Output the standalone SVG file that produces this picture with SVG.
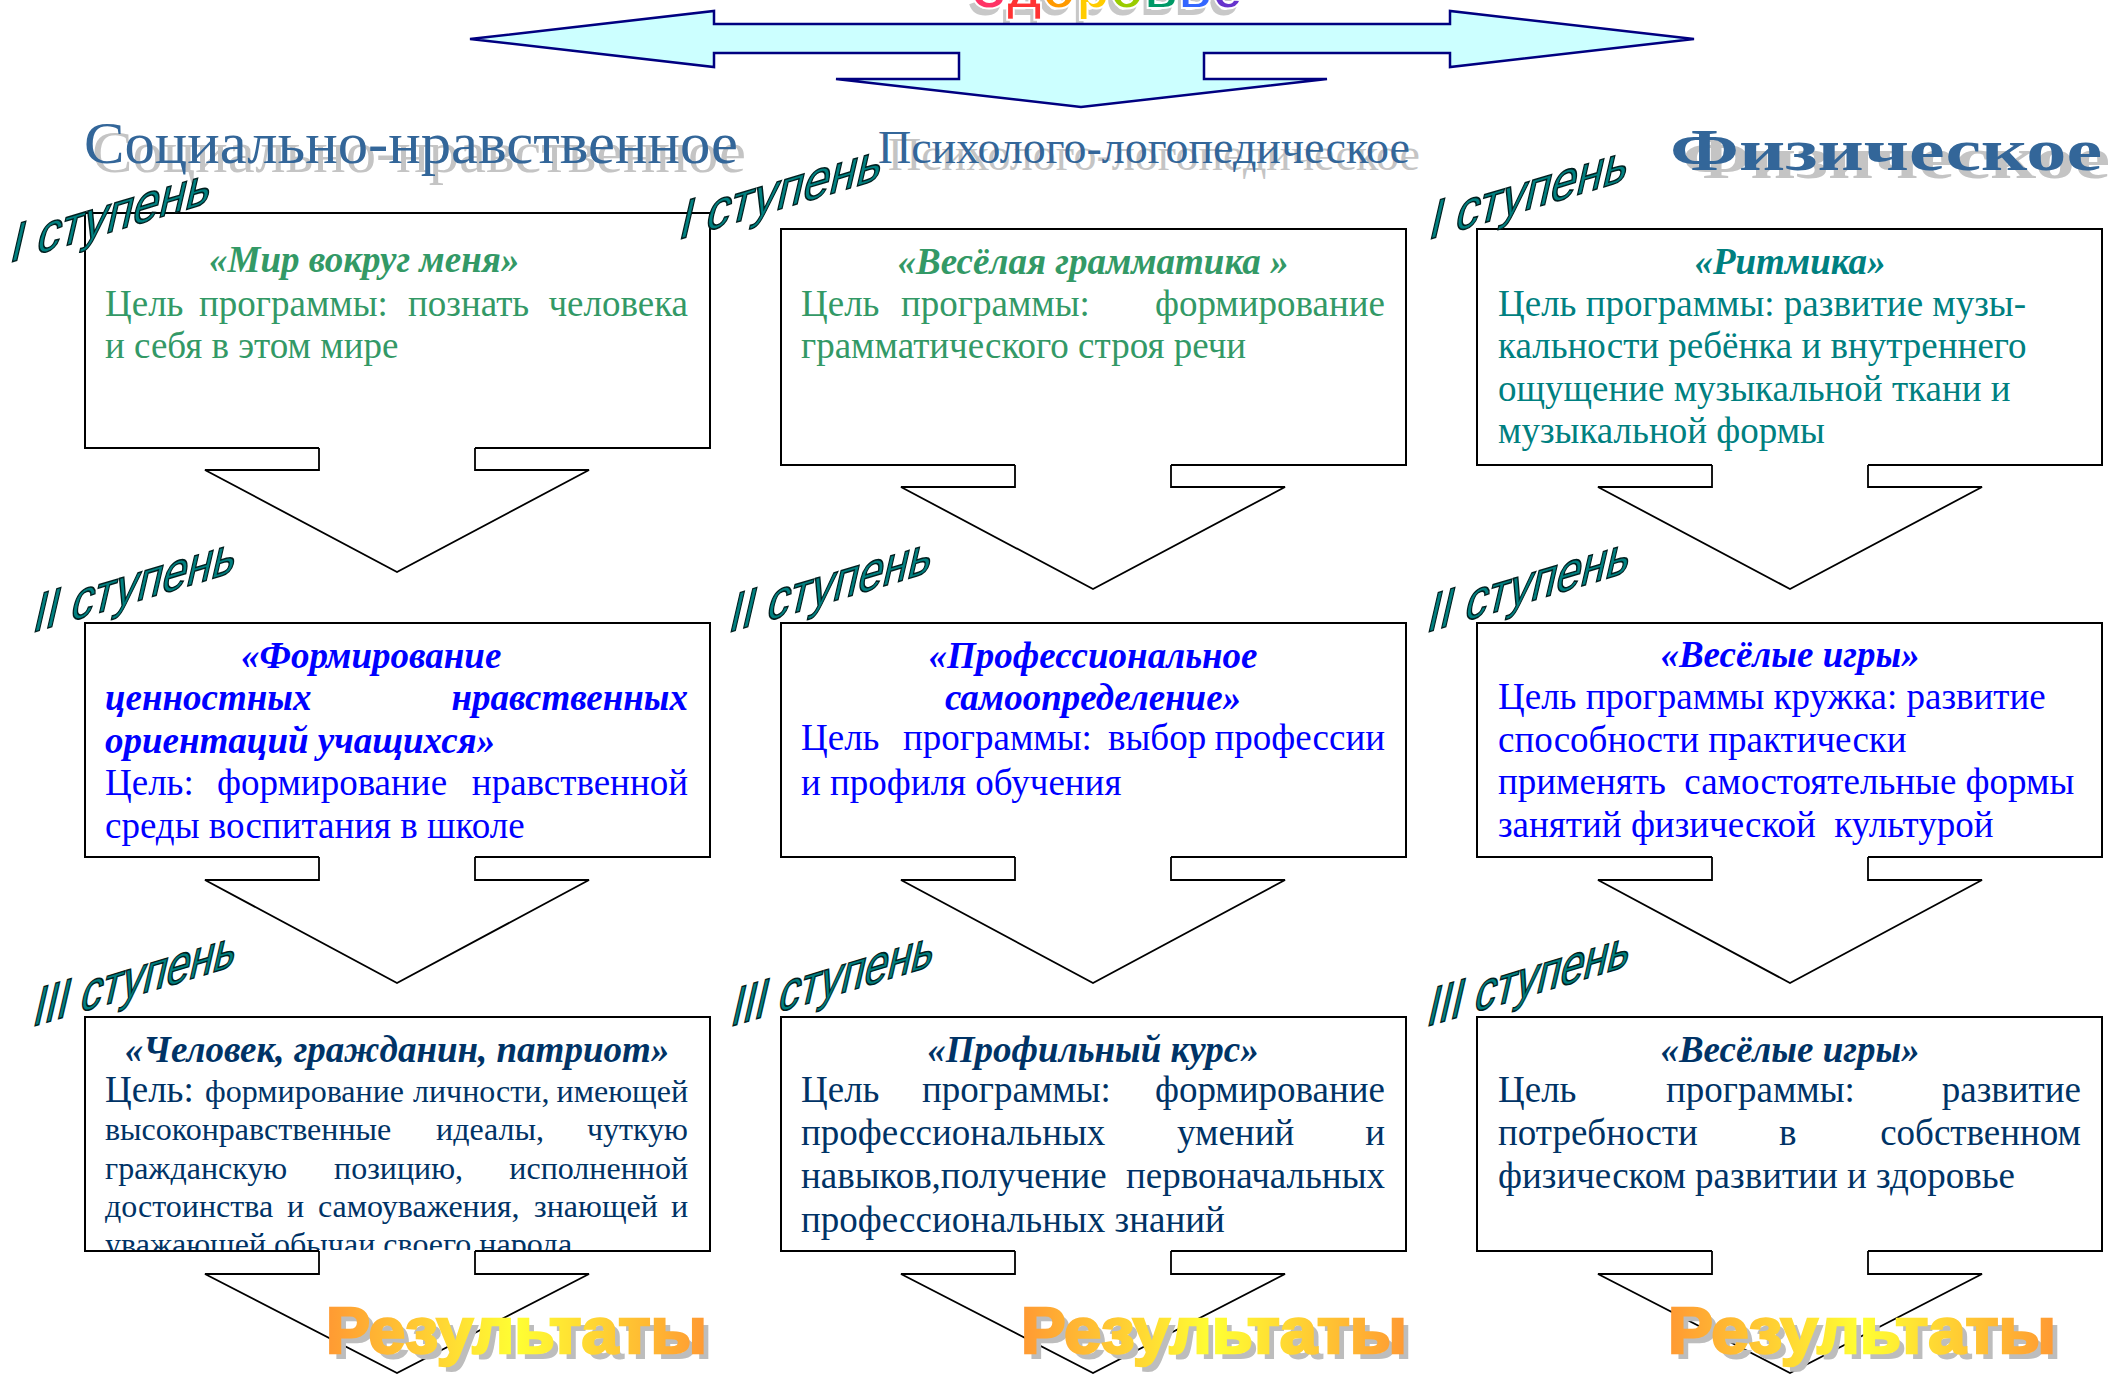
<svg xmlns="http://www.w3.org/2000/svg" width="2112" height="1375" viewBox="0 0 2112 1375">
<defs>
<style>
.box{fill:#fff;stroke:#000;stroke-width:2}
.af{fill:#fff;stroke:none}
.as{fill:none;stroke:#000;stroke-width:1.8;stroke-linejoin:miter}
.ti{font-family:"Liberation Serif","Times New Roman",serif;font-weight:bold;font-style:italic;font-size:37px}
.bo{font-family:"Liberation Serif","Times New Roman",serif;font-size:37px}
.sm{font-size:32px}
.g{fill:#339966}.tl{fill:#008080}.bl{fill:#0000FF}.nv{fill:#003366}
.hd{font-family:"Liberation Serif","Times New Roman",serif;fill:#336699}
.hs{font-family:"Liberation Serif","Times New Roman",serif;fill:#C4C4C4}
.lbl{font-family:"Liberation Sans",Arial,sans-serif;font-size:57px;fill:#008080;stroke:#001f1f;stroke-width:1.6}
.res{font-family:"Liberation Sans",Arial,sans-serif;font-weight:bold;font-size:64px}
.rs{fill:#BDBDBD}
.rf{fill:url(#rg);stroke:url(#rg);stroke-width:2.5}
</style>
<linearGradient id="rg" x1="0" y1="0" x2="1" y2="0">
<stop offset="0" stop-color="#FF9933"/>
<stop offset="0.5" stop-color="#FFFF33"/>
<stop offset="1" stop-color="#FF9933"/>
</linearGradient>
<clipPath id="c13"><rect x="85" y="1017" width="625" height="233"/></clipPath>
</defs>
<rect width="2112" height="1375" fill="#fff"/>

<g id="title-zdorovye" font-family="Liberation Sans, Arial, sans-serif" font-weight="bold" font-size="60">
<text x="968" y="15" fill="#C8C8C8" textLength="271" lengthAdjust="spacingAndGlyphs">Здоровье</text>
<text x="972" y="8" stroke="#fff" stroke-width="2" textLength="271" lengthAdjust="spacingAndGlyphs"><tspan fill="#FF3366">З</tspan><tspan fill="#FF3333">д</tspan><tspan fill="#FF9900">о</tspan><tspan fill="#FFCC00">р</tspan><tspan fill="#99CC00">о</tspan><tspan fill="#009966">в</tspan><tspan fill="#3366FF">ь</tspan><tspan fill="#6633CC">е</tspan></text>
</g>

<g id="top-arrow">
<polygon points="470,39 714,11 714,24 1450,24 1450,11 1694,39 1450,67 1450,53 1204,53 1204,79 1327,79 1081,107 836,79 959,79 959,53 714,53 714,67" fill="#CCFFFF" stroke="#000080" stroke-width="2.5" stroke-linejoin="miter"/>
</g>

<g id="headings">
<text class="hs" x="92" y="172" font-size="60" textLength="654" lengthAdjust="spacingAndGlyphs">Социально-нравственное</text>
<text class="hd" x="84" y="163" font-size="60" textLength="654" lengthAdjust="spacingAndGlyphs">Социально-нравственное</text>
<text class="hs" x="888" y="170" font-size="47" textLength="532" lengthAdjust="spacingAndGlyphs">Психолого-логопедическое</text>
<text class="hd" x="878" y="163" font-size="47" textLength="532" lengthAdjust="spacingAndGlyphs">Психолого-логопедическое</text>
<text class="hs" x="1682" y="178" font-size="60" font-weight="bold" textLength="428" lengthAdjust="spacingAndGlyphs">Физическое</text>
<text class="hd" x="1670" y="170" font-size="60" font-weight="bold" textLength="432" lengthAdjust="spacingAndGlyphs">Физическое</text>
</g>

<!-- Column 1 -->
<g id="node-c1-s1">
<rect class="box" x="85" y="213" width="625" height="235"/>
<text class="ti g" x="209" y="272">«Мир вокруг меня»</text>
<text class="bo g" y="316"><tspan x="105">Цель</tspan><tspan x="199">программы:</tspan><tspan x="408">познать</tspan></text>
<text class="bo g" x="688" y="316" text-anchor="end">человека</text>
<text class="bo g" x="105" y="358">и себя в этом мире</text>
</g>

<g id="node-c1-s2">
<rect class="box" x="85" y="623" width="625" height="234"/>
<text class="ti bl" x="241" y="668">«Формирование</text>
<text class="ti bl" x="105" y="710">ценностных</text>
<text class="ti bl" x="688" y="710" text-anchor="end">нравственных</text>
<text class="ti bl" x="105" y="753">ориентаций учащихся»</text>
<text class="bo bl" y="795"><tspan x="105">Цель:</tspan><tspan x="217">формирование</tspan></text>
<text class="bo bl" x="688" y="795" text-anchor="end">нравственной</text>
<text class="bo bl" x="105" y="838">среды воспитания в школе</text>
</g>

<g id="node-c1-s3">
<rect class="box" x="85" y="1017" width="625" height="234"/>
<text class="ti nv" x="397" y="1062" text-anchor="middle">«Человек, гражданин, патриот»</text>
<g clip-path="url(#c13)">
<text class="bo nv" y="1102"><tspan x="105">Цель:</tspan><tspan class="sm" x="205">формирование</tspan><tspan class="sm" x="413">личности,</tspan></text>
<text class="bo sm nv" x="688" y="1102" text-anchor="end">имеющей</text>
<text class="bo sm nv" y="1140"><tspan x="105">высоконравственные</tspan><tspan x="436">идеалы,</tspan></text>
<text class="bo sm nv" x="688" y="1140" text-anchor="end">чуткую</text>
<text class="bo sm nv" y="1179"><tspan x="105">гражданскую</tspan><tspan x="334">позицию,</tspan></text>
<text class="bo sm nv" x="688" y="1179" text-anchor="end">исполненной</text>
<text class="bo sm nv" y="1217"><tspan x="105">достоинства</tspan><tspan x="287">и</tspan><tspan x="318">самоуважения,</tspan><tspan x="534">знающей</tspan></text>
<text class="bo sm nv" x="688" y="1217" text-anchor="end">и</text>
<text class="bo sm nv" x="105" y="1255">уважающей обычаи своего народа</text>
</g>
</g>

<!-- Column 2 -->
<g id="node-c2-s1">
<rect class="box" x="781" y="229" width="625" height="236"/>
<text class="ti g" x="1093" y="274" text-anchor="middle">«Весёлая грамматика »</text>
<text class="bo g" y="316"><tspan x="801">Цель</tspan><tspan x="901">программы:</tspan></text>
<text class="bo g" x="1385" y="316" text-anchor="end">формирование</text>
<text class="bo g" x="801" y="358">грамматического строя речи</text>
</g>

<g id="node-c2-s2">
<rect class="box" x="781" y="623" width="625" height="234"/>
<text class="ti bl" x="1093" y="668" text-anchor="middle">«Профессиональное</text>
<text class="ti bl" x="1093" y="710" text-anchor="middle">самоопределение»</text>
<text class="bo bl" y="750"><tspan x="801">Цель</tspan><tspan x="903">программы:</tspan><tspan x="1108">выбор</tspan></text>
<text class="bo bl" x="1385" y="750" text-anchor="end">профессии</text>
<text class="bo bl" x="801" y="795">и профиля обучения</text>
</g>

<g id="node-c2-s3">
<rect class="box" x="781" y="1017" width="625" height="234"/>
<text class="ti nv" x="1093" y="1062" text-anchor="middle">«Профильный курс»</text>
<text class="bo nv" y="1102"><tspan x="801">Цель</tspan><tspan x="922">программы:</tspan></text>
<text class="bo nv" x="1385" y="1102" text-anchor="end">формирование</text>
<text class="bo nv" y="1145"><tspan x="801">профессиональных</tspan><tspan x="1177">умений</tspan></text>
<text class="bo nv" x="1385" y="1145" text-anchor="end">и</text>
<text class="bo nv" x="801" y="1188">навыков,получение</text>
<text class="bo nv" x="1385" y="1188" text-anchor="end">первоначальных</text>
<text class="bo nv" x="801" y="1232">профессиональных знаний</text>
</g>

<!-- Column 3 -->
<g id="node-c3-s1">
<rect class="box" x="1477" y="229" width="625" height="236"/>
<text class="ti tl" x="1790" y="274" text-anchor="middle">«Ритмика»</text>
<text class="bo tl" x="1498" y="316">Цель программы: развитие музы-</text>
<text class="bo tl" x="1498" y="358">кальности ребёнка и внутреннего</text>
<text class="bo tl" x="1498" y="401">ощущение музыкальной ткани и</text>
<text class="bo tl" x="1498" y="443">музыкальной формы</text>
</g>

<g id="node-c3-s2">
<rect class="box" x="1477" y="623" width="625" height="234"/>
<text class="ti bl" x="1790" y="667" text-anchor="middle">«Весёлые игры»</text>
<text class="bo bl" x="1498" y="709">Цель программы кружка: развитие</text>
<text class="bo bl" x="1498" y="752">способности практически</text>
<text class="bo bl" x="1498" y="794" xml:space="preserve">применять  самостоятельные формы</text>
<text class="bo bl" x="1498" y="837" xml:space="preserve">занятий физической  культурой</text>
</g>

<g id="node-c3-s3">
<rect class="box" x="1477" y="1017" width="625" height="234"/>
<text class="ti nv" x="1790" y="1062" text-anchor="middle">«Весёлые игры»</text>
<text class="bo nv" y="1102"><tspan x="1498">Цель</tspan><tspan x="1666">программы:</tspan></text>
<text class="bo nv" x="2081" y="1102" text-anchor="end">развитие</text>
<text class="bo nv" y="1145"><tspan x="1498">потребности</tspan><tspan x="1779">в</tspan></text>
<text class="bo nv" x="2081" y="1145" text-anchor="end">собственном</text>
<text class="bo nv" x="1498" y="1188">физическом развитии и здоровье</text>
</g>

<g id="connectors">
<path class="af" d="M319,447V470H205L397,572L589,470H475V447Z"/>
<path class="as" d="M319,448V470H205L397,572L589,470H475V448"/>
<path class="af" d="M319,856V880H205L397,983L589,880H475V856Z"/>
<path class="as" d="M319,857V880H205L397,983L589,880H475V857"/>
<path class="af" d="M319,1250V1274H205L397,1373L589,1274H475V1250Z"/>
<path class="as" d="M319,1251V1274H205L397,1373L589,1274H475V1251"/>

<path class="af" d="M1015,464V487H901L1093,589L1285,487H1171V464Z"/>
<path class="as" d="M1015,465V487H901L1093,589L1285,487H1171V465"/>
<path class="af" d="M1015,856V880H901L1093,983L1285,880H1171V856Z"/>
<path class="as" d="M1015,857V880H901L1093,983L1285,880H1171V857"/>
<path class="af" d="M1015,1250V1274H901L1093,1373L1285,1274H1171V1250Z"/>
<path class="as" d="M1015,1251V1274H901L1093,1373L1285,1274H1171V1251"/>

<path class="af" d="M1712,464V487H1598L1790,589L1982,487H1868V464Z"/>
<path class="as" d="M1712,465V487H1598L1790,589L1982,487H1868V465"/>
<path class="af" d="M1712,856V880H1598L1790,983L1982,880H1868V856Z"/>
<path class="as" d="M1712,857V880H1598L1790,983L1982,880H1868V857"/>
<path class="af" d="M1712,1250V1274H1598L1790,1373L1982,1274H1868V1250Z"/>
<path class="as" d="M1712,1251V1274H1598L1790,1373L1982,1274H1868V1251"/>
</g>

<g id="stage-labels">
<text class="lbl" transform="matrix(1 -0.3 -0.23 1 8 263)" textLength="200" lengthAdjust="spacingAndGlyphs">I ступень</text>
<text class="lbl" transform="matrix(1 -0.3 -0.23 1 677 240)" textLength="202" lengthAdjust="spacingAndGlyphs">I ступень</text>
<text class="lbl" transform="matrix(1 -0.3 -0.23 1 1427 240)" textLength="198" lengthAdjust="spacingAndGlyphs">I ступень</text>
<text class="lbl" transform="matrix(1 -0.3 -0.23 1 31 633)" textLength="202" lengthAdjust="spacingAndGlyphs">II ступень</text>
<text class="lbl" transform="matrix(1 -0.3 -0.23 1 727 633)" textLength="202" lengthAdjust="spacingAndGlyphs">II ступень</text>
<text class="lbl" transform="matrix(1 -0.3 -0.23 1 1425 633)" textLength="202" lengthAdjust="spacingAndGlyphs">II ступень</text>
<text class="lbl" transform="matrix(1 -0.3 -0.23 1 31 1027)" textLength="202" lengthAdjust="spacingAndGlyphs">III ступень</text>
<text class="lbl" transform="matrix(1 -0.3 -0.23 1 729 1027)" textLength="202" lengthAdjust="spacingAndGlyphs">III ступень</text>
<text class="lbl" transform="matrix(1 -0.3 -0.23 1 1425 1027)" textLength="202" lengthAdjust="spacingAndGlyphs">III ступень</text>
</g>

<g id="results">
<text class="res rs" x="332" y="1359" textLength="381" lengthAdjust="spacingAndGlyphs">Результаты</text>
<text class="res rf" x="326" y="1353" textLength="381" lengthAdjust="spacingAndGlyphs">Результаты</text>
<text class="res rs" x="1027" y="1359" textLength="386" lengthAdjust="spacingAndGlyphs">Результаты</text>
<text class="res rf" x="1021" y="1353" textLength="386" lengthAdjust="spacingAndGlyphs">Результаты</text>
<text class="res rs" x="1674" y="1359" textLength="388" lengthAdjust="spacingAndGlyphs">Результаты</text>
<text class="res rf" x="1668" y="1353" textLength="388" lengthAdjust="spacingAndGlyphs">Результаты</text>
</g>
</svg>
